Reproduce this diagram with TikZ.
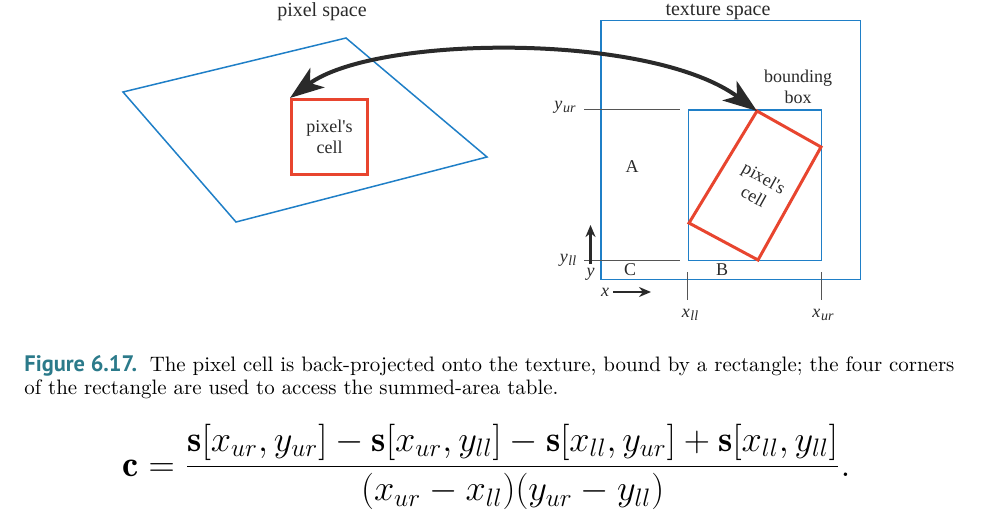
\documentclass[tikz,border=0pt]{standalone}
\usepackage{fontspec}
\usepackage{graphicx}
\usetikzlibrary{arrows.meta}
\newfontfamily\tms{Liberation Serif}
\newfontfamily\figsans{PT Sans}
\definecolor{bl}{HTML}{1F7FC7}
\definecolor{rd}{HTML}{E8452F}
\definecolor{txt}{HTML}{2A2A2A}
\definecolor{gr}{HTML}{555555}
\definecolor{teal}{HTML}{2B7A8A}
\newcommand{\lsub}[2]{{\tms\itshape #1\kern0.3pt\raisebox{-0.35ex}{\fontsize{7}{7}\selectfont #2}}}
\begin{document}
\begin{tikzpicture}[x=0.5pt,y=-0.5pt,
  blueline/.style={draw=bl,line width=0.75pt},
  redline/.style={draw=rd,line width=1.5pt},
  lbl/.style={font=\tms\fontsize{9}{10.5}\selectfont,text=txt,inner sep=0pt,align=center},
  title/.style={font=\tms\fontsize{10}{12}\selectfont,text=txt,inner sep=0pt},
  grline/.style={draw=gr,line width=0.5pt},
  bigarrow/.style={draw=txt,line width=2pt,{Stealth[length=17pt,width=12pt,inset=4.5pt]}-{Stealth[length=17pt,width=12pt,inset=4.5pt]}},
  smallarrow/.style={draw=txt,line width=1.1pt,-{Stealth[length=6pt,width=5pt]}}]
\useasboundingbox (0,0) rectangle (988,519);

% titles
\node[title] (ps) at (322,12) {pixel space};
\node[title] (ts) at (718,12) {texture space};

% pixel space
\draw[blueline] (123,92) -- (346,38) -- (487,157) -- (236,222) -- cycle;
\node[redline,minimum width=38pt,minimum height=37.5pt,lbl] (cell) at (329.5,137) {pixel's\\cell};

% texture space
\draw[blueline] (601,20.5) rectangle (860.5,279.5);
\draw[blueline] (688.5,110) rectangle (821.5,260.5);
\coordinate (ra) at (757,111);
\coordinate (rb) at (821,147);
\coordinate (rc) at (758,260);
\coordinate (rd) at (689,223);
\draw[redline,line join=miter] (ra) -- (rb) -- (rc) -- (rd) -- cycle;
\node[lbl,rotate=-29] (cell2) at (759,187) {pixel's\\cell};
\node[lbl] (bb) at (798,87) {bounding\\box};

\node[lbl] (A) at (632,167) {A};
\node[lbl] (B) at (722,270) {B};
\node[lbl] (C) at (630,270) {C};

% coordinate marks
\node[lbl] (yur) at (565,107) {\lsub{y}{ur}};
\node[lbl] (yll) at (568,260) {\lsub{y}{ll}};
\draw[grline] (584,109.5) -- (680,109.5);
\draw[grline] (584,260.5) -- (680,260.5);
\node[lbl] (xll) at (690,315) {\lsub{x}{ll}};
\node[lbl] (xur) at (823,315) {\lsub{x}{ur}};
\draw[grline] (687.5,272) -- (687.5,300);
\draw[grline] (821.5,272) -- (821.5,300);

\node[lbl] (ylab) at (590.5,274) {\itshape y};
\coordinate (ytip) at (590.5,225);
\draw[smallarrow] (590.5,264) -- (ytip);
\node[lbl] (xlab) at (605,292) {\itshape x};
\coordinate (xtip) at (651,292);
\draw[smallarrow] (xlab.east) ++(4,0) -- (xtip);

% big double arrow
\draw[bigarrow] (cell.north west) .. controls (375,35) and (650,32) .. (ra);

% caption
\node[anchor=base west,inner sep=0pt,font=\fontsize{10.45}{12}\selectfont] (cap1) at (24,371)
  {{\figsans\bfseries\fontsize{11.2}{12}\selectfont\color{teal}Figure 6.17.}\hspace{0.6em}The pixel cell is back-projected onto the texture, bound by a rectangle; the four corners};
\node[anchor=base west,inner sep=0pt,font=\fontsize{10.45}{12}\selectfont] (cap2) at (24,394)
  {of the rectangle are used to access the summed-area table.};

% equation
\node[anchor=base west,inner sep=0pt,font=\fontsize{17.28}{21}\selectfont] (eq) at (122,476)
  {\scalebox{1.052}{$\displaystyle \mathbf{c}=\frac{\mathbf{s}[x_{ur},y_{ur}]-\mathbf{s}[x_{ur},y_{ll}]-\mathbf{s}[x_{ll},y_{ur}]+\mathbf{s}[x_{ll},y_{ll}]}{(x_{ur}-x_{ll})(y_{ur}-y_{ll})}.$}};
\end{tikzpicture}
\end{document}
